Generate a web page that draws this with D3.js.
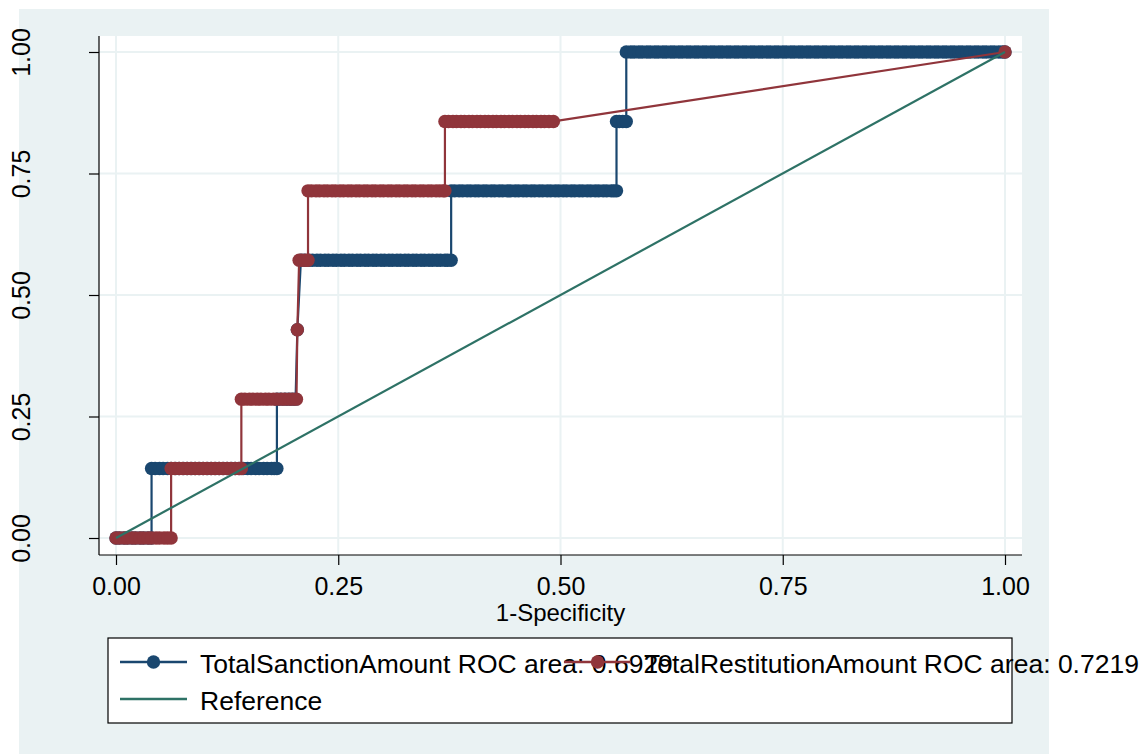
<!DOCTYPE html>
<html>
<head>
<meta charset="utf-8">
<script src="https://cdn.jsdelivr.net/npm/d3@7"></script>
<style>
  html, body { margin: 0; padding: 0; background: #ffffff; }
  svg { display: block; font-family: "Liberation Sans", Arial, sans-serif; }
</style>
</head>
<body>
<svg id="chart" width="1146" height="754"></svg>
<script>
// Sensitivity levels reached by the ROC curves (7 positive cases)
const sanctionLevels = [0, 0.1429, 0.2857, 0.4286, 0.5714, 0.7143, 0.8571, 1];
// 1-specificity values of the cut-points at each sensitivity level
const sanctionFPR = [
  [0, 0.004, 0.009, 0.013, 0.018, 0.022, 0.027, 0.031, 0.036, 0.040],
  [0.040, 0.044, 0.049, 0.053, 0.058, 0.062, 0.067, 0.071, 0.076, 0.080, 0.085, 0.089, 0.094, 0.098, 0.103, 0.107, 0.112,
   0.116, 0.121, 0.125, 0.130, 0.134, 0.139, 0.143, 0.148, 0.152, 0.157, 0.161, 0.166, 0.170, 0.175, 0.178, 0.181],
  [0.181, 0.185, 0.190, 0.194, 0.198, 0.202],
  [0.204],
  [0.208, 0.212, 0.217, 0.221, 0.226, 0.230, 0.235, 0.239, 0.244, 0.248, 0.253, 0.257, 0.262, 0.266, 0.271, 0.275, 0.280,
   0.284, 0.289, 0.293, 0.298, 0.302, 0.307, 0.311, 0.316, 0.320, 0.325, 0.329, 0.334, 0.338, 0.343, 0.347, 0.352, 0.356,
   0.361, 0.365, 0.370, 0.373, 0.377],
  [0.377, 0.381, 0.386, 0.390, 0.395, 0.399, 0.404, 0.408, 0.413, 0.417, 0.422, 0.426, 0.431, 0.435, 0.440, 0.444, 0.449,
   0.453, 0.458, 0.462, 0.467, 0.471, 0.476, 0.480, 0.485, 0.489, 0.494, 0.498, 0.503, 0.507, 0.512, 0.516, 0.521, 0.525,
   0.530, 0.534, 0.539, 0.543, 0.548, 0.552, 0.557, 0.560, 0.563],
  [0.563, 0.566, 0.570, 0.574],
  [0.574, 0.579, 0.583, 0.588, 0.592, 0.597, 0.601, 0.606, 0.610, 0.615, 0.619, 0.624, 0.628, 0.633, 0.637, 0.642, 0.646,
   0.651, 0.655, 0.660, 0.664, 0.669, 0.673, 0.678, 0.682, 0.687, 0.691, 0.696, 0.700, 0.705, 0.709, 0.714, 0.718, 0.723,
   0.727, 0.732, 0.736, 0.741, 0.745, 0.750, 0.754, 0.759, 0.763, 0.768, 0.772, 0.777, 0.781, 0.786, 0.790, 0.795, 0.799,
   0.804, 0.808, 0.813, 0.817, 0.822, 0.826, 0.831, 0.835, 0.840, 0.844, 0.849, 0.853, 0.858, 0.862, 0.867, 0.871, 0.876,
   0.880, 0.885, 0.889, 0.894, 0.898, 0.903, 0.907, 0.912, 0.916, 0.921, 0.925, 0.930, 0.934, 0.939, 0.943, 0.948, 0.952,
   0.957, 0.961, 0.966, 0.970, 0.975, 0.979, 0.984, 0.988, 0.993, 0.997, 1.000]
];

const restitutionLevels = [0, 0.1429, 0.2857, 0.4286, 0.5714, 0.7143, 0.8571, 1];
const restitutionFPR = [
  [0, 0.004, 0.009, 0.013, 0.018, 0.022, 0.027, 0.031, 0.036, 0.040, 0.045, 0.049, 0.054, 0.058, 0.062],
  [0.062, 0.066, 0.071, 0.075, 0.080, 0.084, 0.089, 0.093, 0.098, 0.102, 0.107, 0.111, 0.116, 0.120, 0.125, 0.129, 0.134,
   0.138, 0.141],
  [0.141, 0.145, 0.150, 0.154, 0.159, 0.163, 0.168, 0.172, 0.177, 0.181, 0.186, 0.190, 0.195, 0.199, 0.203],
  [0.204],
  [0.206, 0.209, 0.213, 0.216],
  [0.216, 0.220, 0.225, 0.229, 0.234, 0.238, 0.243, 0.247, 0.252, 0.256, 0.261, 0.265, 0.270, 0.274, 0.279, 0.283, 0.288,
   0.292, 0.297, 0.301, 0.306, 0.310, 0.315, 0.319, 0.324, 0.328, 0.333, 0.337, 0.342, 0.346, 0.351, 0.355, 0.360, 0.364,
   0.368, 0.370],
  [0.370, 0.374, 0.379, 0.383, 0.388, 0.392, 0.397, 0.401, 0.406, 0.410, 0.415, 0.419, 0.424, 0.428, 0.433, 0.437, 0.442,
   0.446, 0.451, 0.455, 0.460, 0.464, 0.469, 0.473, 0.478, 0.482, 0.487, 0.492],
  [1.000]
];

const referenceFPR = [0, 1];
const referenceTPR = [0, 1];

const tickValues = [0, 0.25, 0.5, 0.75, 1];
const xTitle = "1-Specificity";
const seriesNames = ["TotalSanctionAmount", "TotalRestitutionAmount", "Reference"];
const rocAreas = [0.6929, 0.7219];

const colors = { sanction: "#1a476f", restitution: "#90353b", reference: "#2e7266" };
const regionBg = "#eaf2f3";

const svg = d3.select("#chart");

// graph region and plot region
svg.append("rect").attr("x", 19).attr("y", 9).attr("width", 1030).attr("height", 745).attr("fill", regionBg);
const plot = { left: 99, right: 1022, top: 36, bottom: 555 };
svg.append("rect").attr("x", plot.left).attr("y", plot.top)
  .attr("width", plot.right - plot.left).attr("height", plot.bottom - plot.top).attr("fill", "#ffffff");

const x = d3.scaleLinear().domain([0, 1]).range([116, 1005]);
const y = d3.scaleLinear().domain([0, 1]).range([538, 52]);

// grid
const grid = svg.append("g");
grid.selectAll(".gy").data(tickValues).join("line")
  .attr("x1", plot.left).attr("x2", plot.right)
  .attr("y1", d => y(d)).attr("y2", d => y(d))
  .attr("stroke", regionBg).attr("stroke-width", 2);
grid.selectAll(".gx").data(tickValues).join("line")
  .attr("y1", plot.top).attr("y2", plot.bottom)
  .attr("x1", d => x(d)).attr("x2", d => x(d))
  .attr("stroke", regionBg).attr("stroke-width", 2);

// axes
const fmt = d3.format(".2f");
const xAxis = svg.append("g").attr("transform", `translate(0,${plot.bottom})`)
  .call(d3.axisBottom(x).tickValues(tickValues).tickFormat(fmt).tickSize(10).tickSizeOuter(0));
xAxis.select(".domain").remove();
xAxis.selectAll(".tick line").attr("stroke", "#000").attr("stroke-width", 1.2);
xAxis.selectAll(".tick text").attr("font-size", 25).attr("font-family", "Liberation Sans, Arial, sans-serif")
  .attr("fill", "#000").attr("y", 40).attr("dy", 0);

const yAxis = svg.append("g").attr("transform", `translate(${plot.left},0)`)
  .call(d3.axisLeft(y).tickValues(tickValues).tickFormat(fmt).tickSize(10).tickSizeOuter(0));
yAxis.select(".domain").remove();
yAxis.selectAll(".tick line").attr("stroke", "#000").attr("stroke-width", 1.2);
yAxis.selectAll(".tick text").attr("font-size", 25).attr("font-family", "Liberation Sans, Arial, sans-serif")
  .attr("fill", "#000").attr("text-anchor", "middle")
  .attr("transform", "rotate(-90)").attr("x", 0).attr("y", -(plot.left - 30)).attr("dy", 0);

svg.append("line").attr("x1", plot.left).attr("x2", plot.left).attr("y1", plot.top).attr("y2", plot.bottom)
  .attr("stroke", "#000").attr("stroke-width", 1.2);
svg.append("line").attr("x1", plot.left).attr("x2", plot.right).attr("y1", plot.bottom).attr("y2", plot.bottom)
  .attr("stroke", "#000").attr("stroke-width", 1.2);

svg.append("text").attr("x", x(0.5)).attr("y", 621).attr("text-anchor", "middle")
  .attr("font-size", 24).attr("fill", "#000").text(xTitle);

// curves: connect cut-points in order, one marker per cut-point
const line = d3.line().x(d => x(d[0])).y(d => y(d[1]));
function drawCurve(points, color, markers) {
  const g = svg.append("g");
  g.append("path").datum(points).attr("d", line).attr("fill", "none")
    .attr("stroke", color).attr("stroke-width", 2.2);
  if (markers) {
    g.selectAll("circle").data(points).join("circle")
      .attr("cx", d => x(d[0])).attr("cy", d => y(d[1])).attr("r", 6.7).attr("fill", color);
  }
}
const toPoints = (levels, fprRuns) => fprRuns.flatMap((run, i) => run.map(f => [f, levels[i]]));

drawCurve(toPoints(sanctionLevels, sanctionFPR), colors.sanction, true);
drawCurve(toPoints(restitutionLevels, restitutionFPR), colors.restitution, true);
drawCurve(referenceFPR.map((f, i) => [f, referenceTPR[i]]), colors.reference, false);

// legend
const legend = svg.append("g");
legend.append("rect").attr("x", 108).attr("y", 638).attr("width", 904).attr("height", 85)
  .attr("fill", "#fff").attr("stroke", "#000").attr("stroke-width", 1.2);
const keys = [
  { x0: 120, y0: 662, color: colors.sanction, marker: true, label: `${seriesNames[0]} ROC area: ${rocAreas[0].toFixed(4)}` },
  { x0: 564, y0: 662, color: colors.restitution, marker: true, label: `${seriesNames[1]} ROC area: ${rocAreas[1].toFixed(4)}` },
  { x0: 120, y0: 699, color: colors.reference, marker: false, label: seriesNames[2] }
];
keys.forEach(k => {
  legend.append("line").attr("x1", k.x0).attr("x2", k.x0 + 67).attr("y1", k.y0).attr("y2", k.y0)
    .attr("stroke", k.color).attr("stroke-width", 2.5);
  if (k.marker) legend.append("circle").attr("cx", k.x0 + 33.5).attr("cy", k.y0).attr("r", 6.7).attr("fill", k.color);
  legend.append("text").attr("x", k.x0 + 80).attr("y", k.y0 + 11).attr("font-size", 26.5).attr("fill", "#000").text(k.label);
});
</script>
</body>
</html>
